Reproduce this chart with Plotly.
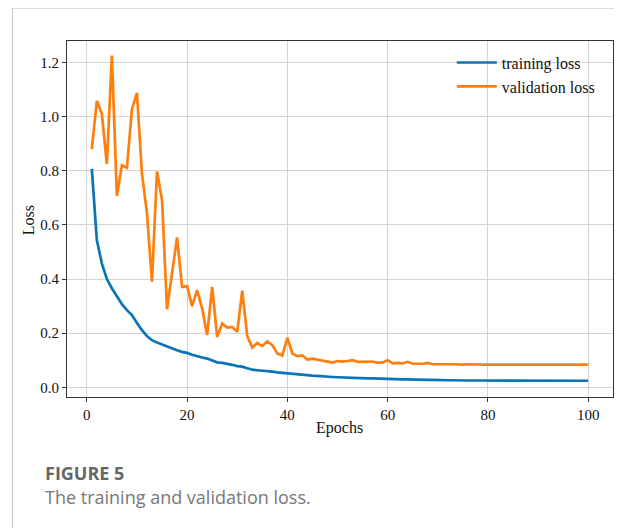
import plotly.graph_objects as go

epochs = list(range(1, 101))

training_loss = [
    0.807, 0.544, 0.458, 0.400, 0.366, 0.335, 0.307, 0.285, 0.267, 0.238,
    0.211, 0.189, 0.174, 0.165, 0.158, 0.149, 0.143, 0.137, 0.131, 0.127,
    0.120, 0.114, 0.110, 0.106, 0.100, 0.092, 0.090, 0.087, 0.083, 0.078,
    0.076, 0.070, 0.065, 0.063, 0.062, 0.060, 0.058, 0.055, 0.053, 0.051,
    0.050, 0.049, 0.047, 0.045, 0.043, 0.042, 0.040, 0.039, 0.038, 0.037,
    0.036, 0.036, 0.035, 0.035, 0.034, 0.033, 0.033, 0.032, 0.032, 0.031,
    0.030, 0.030, 0.029, 0.029, 0.028, 0.028, 0.027, 0.027, 0.027, 0.026,
    0.026, 0.026, 0.026, 0.025, 0.025, 0.025, 0.025, 0.025, 0.025, 0.025,
    0.025, 0.025, 0.024, 0.024, 0.024, 0.024, 0.024, 0.024, 0.024, 0.024,
    0.024, 0.024, 0.024, 0.024, 0.024, 0.024, 0.024, 0.024, 0.024, 0.024,
]

validation_loss = [
    0.880, 1.059, 1.011, 0.825, 1.226, 0.707, 0.821, 0.812, 1.028, 1.088,
    0.790, 0.643, 0.390, 0.798, 0.693, 0.288, 0.421, 0.554, 0.371, 0.374,
    0.300, 0.359, 0.291, 0.193, 0.371, 0.186, 0.236, 0.221, 0.223, 0.205,
    0.357, 0.189, 0.147, 0.164, 0.152, 0.170, 0.156, 0.125, 0.117, 0.183,
    0.125, 0.115, 0.118, 0.102, 0.106, 0.102, 0.100, 0.094, 0.091, 0.097,
    0.095, 0.097, 0.100, 0.094, 0.095, 0.095, 0.095, 0.090, 0.092, 0.100,
    0.088, 0.090, 0.088, 0.094, 0.087, 0.087, 0.087, 0.090, 0.085, 0.085,
    0.084, 0.085, 0.085, 0.084, 0.084, 0.085, 0.084, 0.084, 0.084, 0.084,
    0.084, 0.084, 0.084, 0.084, 0.084, 0.084, 0.084, 0.084, 0.084, 0.084,
    0.084, 0.084, 0.084, 0.084, 0.084, 0.084, 0.084, 0.084, 0.084, 0.084,
]

x_ticks = [0, 20, 40, 60, 80, 100]
y_ticks = [0.0, 0.2, 0.4, 0.6, 0.8, 1.0, 1.2]
y_tick_labels = ["0.0", "0.2", "0.4", "0.6", "0.8", "1.0", "1.2"]

SERIF = "Liberation Serif, Times New Roman, serif"
SANS = "Open Sans, Lato, sans-serif"
OFF = 8  # page body margin
W, H = 622 - OFF, 528 - OFF
ML, MR, MT, MB = 66.7 - OFF, 8.6, 41.4 - OFF, 131

pw = W - ML - MR
ph = H - MT - MB

def px(xr):
    return (xr - OFF - ML) / pw

def py(yr):
    return (H - MB - (yr - OFF)) / ph

fig = go.Figure()
fig.add_trace(go.Scatter(x=epochs, y=training_loss, mode="lines", name="training loss",
                         line=dict(color="#0a74b9", width=2.7)))
fig.add_trace(go.Scatter(x=epochs, y=validation_loss, mode="lines", name="validation loss",
                         line=dict(color="#ff7f0e", width=2.7)))

axis_common = dict(
    showline=True, linecolor="#333333", linewidth=1, mirror=True,
    showgrid=True, gridcolor="#d4d4d4", gridwidth=1,
    ticks="outside", ticklen=4, tickcolor="#333333",
    tickfont=dict(family=SERIF, size=15, color="#111111"),
    zeroline=False,
)

fig.update_layout(
    width=W, height=H,
    margin=dict(l=ML, r=MR, t=MT, b=MB, pad=0),
    paper_bgcolor="white", plot_bgcolor="white",
    xaxis=dict(range=[-3.95, 104.95], tickvals=x_ticks, **axis_common),
    yaxis=dict(range=[-0.036, 1.28], tickvals=y_ticks, ticktext=y_tick_labels, **axis_common),
    showlegend=True,
    legend=dict(
        x=px(452), y=py(46), xanchor="left", yanchor="top",
        bgcolor="rgba(0,0,0,0)", borderwidth=0,
        font=dict(family=SERIF, size=16, color="#111111"),
        tracegroupgap=0, itemwidth=40,
    ),
    shapes=[
        dict(type="line", xref="paper", yref="paper",
             x0=px(12), x1=px(640), y0=py(8.5), y1=py(8.5),
             line=dict(color="#c4c4c4", width=1)),
        dict(type="line", xref="paper", yref="paper",
             x0=px(12), x1=px(12), y0=py(8.5), y1=py(540),
             line=dict(color="#c4c4c4", width=1)),
    ],
    annotations=[
        dict(text="Loss", xref="paper", yref="paper", x=px(28), y=py(220),
             xanchor="center", yanchor="middle", textangle=-90, showarrow=False,
             font=dict(family=SERIF, size=16, color="#111111")),
        dict(text="Epochs", xref="paper", yref="paper", x=px(340), y=py(428),
             xanchor="center", yanchor="middle", showarrow=False,
             font=dict(family=SERIF, size=16, color="#111111")),
        dict(text="<b>FIGURE 5</b>", xref="paper", yref="paper", x=px(43), y=py(473),
             xanchor="left", yanchor="middle", showarrow=False,
             font=dict(family=SANS, size=18, color="#666666")),
        dict(text="The training and validation loss.", xref="paper", yref="paper",
             x=px(43), y=py(497), xanchor="left", yanchor="middle", showarrow=False,
             font=dict(family=SANS, size=18, color="#777777")),
    ],
)

fig.write_html("out.html")
